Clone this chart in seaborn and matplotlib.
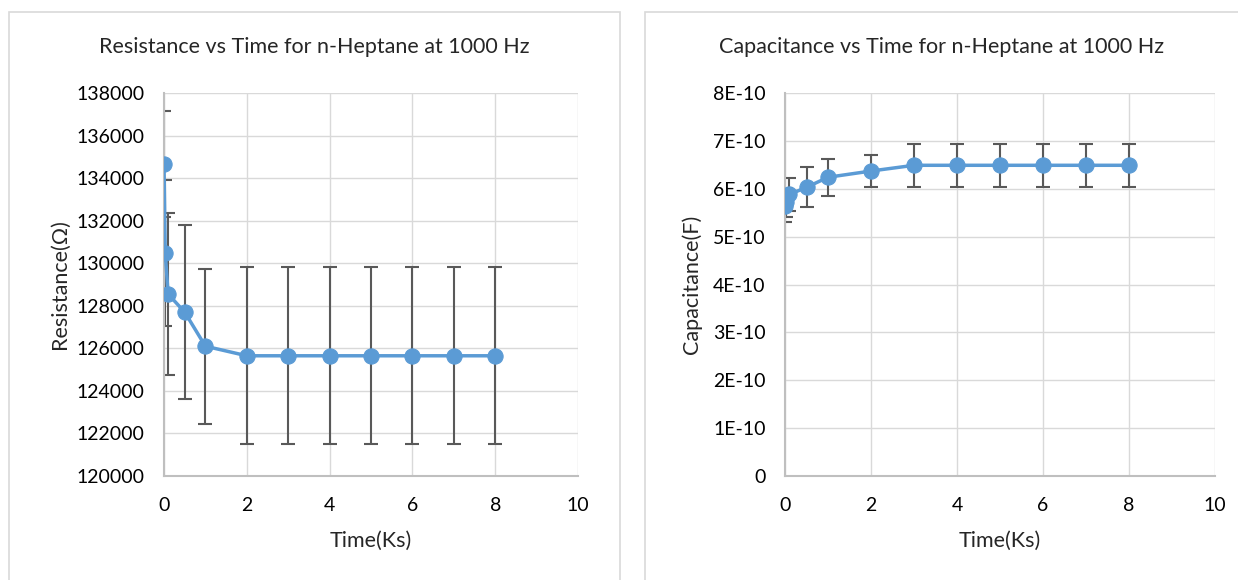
import matplotlib
matplotlib.use("Agg")
import matplotlib.pyplot as plt
import seaborn as sns
import pandas as pd
from matplotlib.patches import Rectangle

# Data
time_ks = [0, 0.03, 0.1, 0.5, 1, 2, 3, 4, 5, 6, 7, 8]
resistance = [134650, 130480, 128550, 127700, 126100, 125650, 125650, 125650,
              125650, 125650, 125650, 125650]
resistance_err = [2500, 3420, 3800, 4100, 3650, 4150, 4150, 4150, 4150, 4150, 4150, 4150]
capacitance = [5.65e-10, 5.72e-10, 5.88e-10, 6.03e-10, 6.24e-10, 6.37e-10, 6.49e-10,
               6.49e-10, 6.49e-10, 6.49e-10, 6.49e-10, 6.49e-10]
capacitance_err = [0.35e-10, 0.30e-10, 0.35e-10, 0.42e-10, 0.39e-10, 0.33e-10, 0.45e-10,
                   0.45e-10, 0.45e-10, 0.45e-10, 0.45e-10, 0.45e-10]

res_ticks = list(range(120000, 138001, 2000))
cap_ticks = [i * 1e-10 for i in range(0, 9)]
cap_labels = ["0"] + [f"{i}E-10" for i in range(1, 9)]

df = pd.DataFrame({"time": time_ks, "res": resistance, "cap": capacitance})

sns.set_theme(style="whitegrid")
plt.rcParams["font.family"] = ["Lato", "DejaVu Sans"]

blue = "#5B9BD5"
err_col = "#595959"
grid_col = "#D9D9D9"

fig = plt.figure(figsize=(12.38, 5.8), dpi=100)

# panel frames like the Excel chart boxes
W, H = 1238, 580
fig.patches.append(Rectangle((9 / W, -0.1), (620 - 9) / W, 1.1 - 12 / H,
                             transform=fig.transFigure, fill=False,
                             edgecolor="#D9D9D9", linewidth=1.2))
fig.patches.append(Rectangle((645 / W, -0.1), 0.5, 1.1 - 12 / H,
                             transform=fig.transFigure, fill=False,
                             edgecolor="#D9D9D9", linewidth=1.2))

ax1 = fig.add_axes([164 / W, 104 / H, 414 / W, 383 / H])
ax2 = fig.add_axes([785 / W, 104 / H, 430 / W, 383 / H])


def style_axis(ax):
    ax.set_xlim(0, 10)
    ax.set_xticks(range(0, 11, 2))
    ax.grid(True, color=grid_col, linewidth=1)
    for s in ["top", "right"]:
        ax.spines[s].set_visible(False)
    for s in ["left", "bottom"]:
        ax.spines[s].set_color("#BFBFBF")
        ax.spines[s].set_linewidth(1.5)
    ax.tick_params(axis="both", labelsize=14, colors="#000000", length=0)
    ax.tick_params(axis="x", pad=15)
    ax.tick_params(axis="y", pad=14)
    ax.set_facecolor("white")


# Resistance panel
ax1.errorbar(df["time"], df["res"], yerr=resistance_err, fmt="none",
             ecolor=err_col, elinewidth=1.5, capsize=5, capthick=1.5, zorder=2)
sns.lineplot(data=df, x="time", y="res", ax=ax1, color=blue, linewidth=2.5,
             marker="o", markersize=11, markeredgecolor=blue, zorder=3)
style_axis(ax1)
ax1.set_ylim(120000, 138000)
ax1.set_yticks(res_ticks)
ax1.set_yticklabels([str(t) for t in res_ticks])
ax1.set_xlabel("Time(Ks)", fontsize=15.5, labelpad=12)
ax1.set_ylabel("Resistance(Ω)", fontsize=15.5, labelpad=5)

# Capacitance panel
ax2.errorbar(df["time"], df["cap"], yerr=capacitance_err, fmt="none",
             ecolor=err_col, elinewidth=1.5, capsize=5, capthick=1.5, zorder=2)
sns.lineplot(data=df, x="time", y="cap", ax=ax2, color=blue, linewidth=2.5,
             marker="o", markersize=11, markeredgecolor=blue, zorder=3)
style_axis(ax2)
ax2.set_ylim(0, 8e-10)
ax2.set_yticks(cap_ticks)
ax2.set_yticklabels(cap_labels)
ax2.set_xlabel("Time(Ks)", fontsize=15.5, labelpad=12)
ax2.set_ylabel("Capacitance(F)", fontsize=15.5, labelpad=8)

# titles are centred on the chart boxes, not the plot areas
fig.text(314 / W, 1 - 47 / H, "Resistance vs Time for n-Heptane at 1000 Hz",
         fontsize=15.5, ha="center", va="center")
fig.text(942 / W, 1 - 47 / H, "Capacitance vs Time for n-Heptane at 1000 Hz",
         fontsize=15.5, ha="center", va="center")

fig.savefig("out.png", dpi=100, facecolor="white")
